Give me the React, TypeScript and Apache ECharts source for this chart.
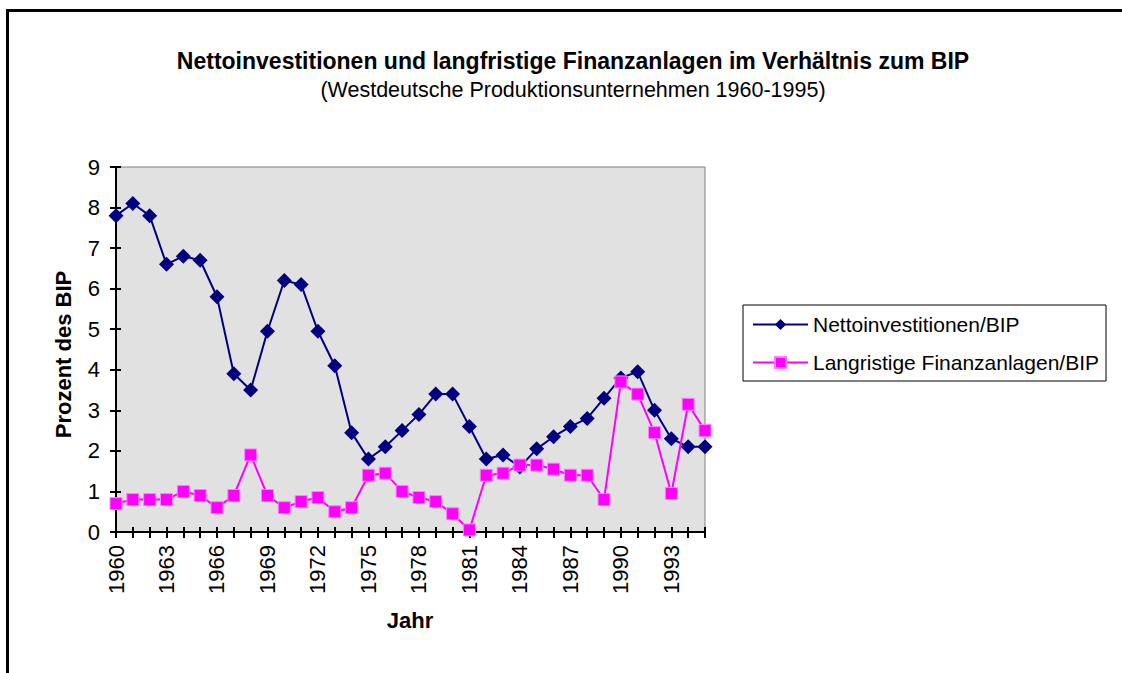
import React, { useEffect, useRef } from "react";
import * as echarts from "echarts";

const years = [
  "1960", "1961", "1962", "1963", "1964", "1965", "1966", "1967", "1968", "1969",
  "1970", "1971", "1972", "1973", "1974", "1975", "1976", "1977", "1978", "1979",
  "1980", "1981", "1982", "1983", "1984", "1985", "1986", "1987", "1988", "1989",
  "1990", "1991", "1992", "1993", "1994", "1995",
];

const nettoInvest = [
  7.8, 8.1, 7.8, 6.6, 6.8, 6.7, 5.8, 3.9, 3.5, 4.95,
  6.2, 6.1, 4.95, 4.1, 2.45, 1.8, 2.1, 2.5, 2.9, 3.4,
  3.4, 2.6, 1.8, 1.9, 1.6, 2.05, 2.35, 2.6, 2.8, 3.3,
  3.8, 3.95, 3.0, 2.3, 2.1, 2.1,
];

const finanzAnlagen = [
  0.7, 0.8, 0.8, 0.8, 1.0, 0.9, 0.6, 0.9, 1.9, 0.9,
  0.6, 0.75, 0.85, 0.5, 0.6, 1.4, 1.45, 1.0, 0.85, 0.75,
  0.45, 0.05, 1.4, 1.45, 1.65, 1.65, 1.55, 1.4, 1.4, 0.8,
  3.7, 3.4, 2.45, 0.95, 3.15, 2.5,
];

const seriesNames = ["Nettoinvestitionen/BIP", "Langristige Finanzanlagen/BIP"];
const titleText = "Nettoinvestitionen und langfristige Finanzanlagen im Verhältnis zum BIP";
const subtitleText = "(Westdeutsche Produktionsunternehmen 1960-1995)";
const yAxisTitle = "Prozent des BIP";
const xAxisTitle = "Jahr";

const FONT = "Liberation Sans, Arial, sans-serif";

export default function App() {
  const ref = useRef<HTMLDivElement>(null);

  useEffect(() => {
    if (!ref.current) return;
    const chart = echarts.init(ref.current, null, { renderer: "svg" });
    const gridLeft = 116;
    const gridTop = 167;
    const gridWidth = 589;
    const gridHeight = 365;

    const option: any = {
      animation: false,
      backgroundColor: "#ffffff",
      textStyle: { fontFamily: FONT },
      title: [
        {
          text: titleText,
          left: 568,
          top: 44,
          textAlign: "center",
          textStyle: { fontFamily: FONT, fontSize: 23, fontWeight: "bold", color: "#000" },
        },
        {
          text: subtitleText,
          left: 568,
          top: 74,
          textAlign: "center",
          textStyle: { fontFamily: FONT, fontSize: 21.5, fontWeight: "normal", color: "#000" },
        },
      ],
      legend: {
        orient: "vertical",
        left: 743,
        top: 305,
        padding: [9, 7, 8, 9],
        itemGap: 17,
        itemWidth: 55,
        itemHeight: 14,
        borderColor: "#000",
        borderWidth: 1,
        backgroundColor: "#fff",
        textStyle: { fontFamily: FONT, fontSize: 21, color: "#000" },
        data: seriesNames,
      },
      grid: {
        left: gridLeft,
        top: gridTop,
        width: gridWidth,
        height: gridHeight,
        show: true,
        backgroundColor: "#e1e1e1",
        borderColor: "#808080",
        borderWidth: 1,
      },
      xAxis: [
        {
          type: "category",
          data: years,
          boundaryGap: false,
          position: "bottom",
          axisLine: { show: true, lineStyle: { color: "#000", width: 2 } },
          axisTick: { show: true, interval: 0, length: 6, lineStyle: { color: "#000", width: 2 } },
          axisLabel: {
            interval: 2,
            rotate: 90,
            margin: 13,
            fontFamily: FONT,
            fontSize: 22,
            color: "#000",
          },
          splitLine: { show: false },
        },
        {
          type: "category",
          data: years,
          boundaryGap: false,
          position: "bottom",
          axisLine: { show: false },
          axisTick: { show: true, inside: true, interval: 0, length: 5, lineStyle: { color: "#000", width: 2 } },
          axisLabel: { show: false },
          splitLine: { show: false },
        },
      ],
      yAxis: [
        {
          type: "value",
          min: 0,
          max: 9,
          interval: 1,
          position: "left",
          axisLine: { show: true, lineStyle: { color: "#000", width: 2 } },
          axisTick: { show: true, length: 6, lineStyle: { color: "#000", width: 2 } },
          axisLabel: { margin: 16, fontFamily: FONT, fontSize: 22, color: "#000" },
          splitLine: { show: false },
        },
        {
          type: "value",
          min: 0,
          max: 9,
          interval: 1,
          position: "left",
          axisLine: { show: false },
          axisTick: { show: true, inside: true, length: 5, lineStyle: { color: "#000", width: 2 } },
          axisLabel: { show: false },
          splitLine: { show: false },
        },
      ],
      series: [
        {
          name: seriesNames[0],
          type: "line",
          data: nettoInvest,
          symbol: "diamond",
          symbolSize: 15,
          showAllSymbol: true,
          lineStyle: { color: "#000080", width: 2 },
          itemStyle: { color: "#000080" },
          z: 3,
        },
        {
          name: seriesNames[1],
          type: "line",
          data: finanzAnlagen,
          symbol: "rect",
          symbolSize: 12,
          showAllSymbol: true,
          lineStyle: { color: "#ff00ff", width: 2 },
          itemStyle: { color: "#ff00ff", borderColor: "#ff80ff", borderWidth: 1 },
          z: 4,
        },
      ],
      graphic: [
        {
          type: "text",
          x: 63,
          y: 354.5,
          rotation: Math.PI / 2,
          style: {
            text: yAxisTitle,
            fontFamily: FONT,
            fontSize: 22,
            fontWeight: "bold",
            fill: "#000",
            align: "center",
            verticalAlign: "middle",
          },
        },
        {
          type: "text",
          x: 410,
          y: 620,
          style: {
            text: xAxisTitle,
            fontFamily: FONT,
            fontSize: 22,
            fontWeight: "bold",
            fill: "#000",
            align: "center",
            verticalAlign: "middle",
          },
        },
        {
          type: "line",
          shape: { x1: 7.5, y1: 9, x2: 7.5, y2: 673 },
          style: { stroke: "#000", lineWidth: 3 },
        },
        {
          type: "line",
          shape: { x1: 6, y1: 10.5, x2: 1122, y2: 10.5 },
          style: { stroke: "#000", lineWidth: 3 },
        },
      ],
    };
    chart.setOption(option);
    return () => chart.dispose();
  }, []);

  return (
    <div
      ref={ref}
      style={{ position: "fixed", left: 0, top: 0, width: 1122, height: 673 }}
    />
  );
}
